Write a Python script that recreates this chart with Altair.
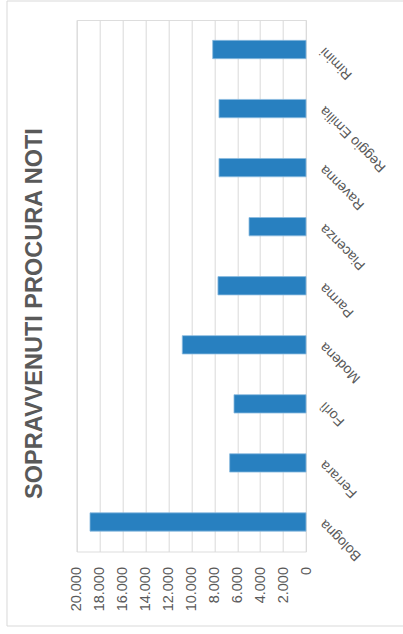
import altair as alt
import pandas as pd

cities = ["Bologna", "Ferrara", "Forlì", "Modena", "Parma", "Piacenza",
          "Ravenna", "Reggio Emilia", "Rimini"]
values = [18840, 6660, 6280, 10790, 7680, 4970, 7590, 7590, 8140]
ticks = [0, 2000, 4000, 6000, 8000, 10000, 12000, 14000, 16000, 18000, 20000]
title_text = "SOPRAVVENUTI PROCURA NOTI"

df = pd.DataFrame({"city": cities, "value": values})

W, H = 229.3, 531.5
PL, PT = 76.7, 20

bars = alt.Chart(df).mark_bar(color="#2880C0", stroke="#8bbbe0", strokeWidth=0.8).encode(
    y=alt.Y("city:N", sort=list(reversed(cities)),
            scale=alt.Scale(paddingInner=0.69, paddingOuter=0.345),
            axis=alt.Axis(orient="right", title=None, ticks=False, domain=False,
                          labelAngle=225, labelAlign="right", labelBaseline="middle",
                          labelPadding=16, labelFontSize=14, labelColor="#595959",
                          labelFont="Liberation Sans", grid=False)),
    x=alt.X("value:Q", scale=alt.Scale(domain=[0, 20000], reverse=True, nice=False),
            axis=alt.Axis(orient="bottom", title=None, values=ticks, ticks=False,
                          domain=False, grid=True, gridColor="#d9d9d9", gridWidth=1,
                          labelAngle=270, labelAlign="right", labelBaseline="middle",
                          labelPadding=15, labelFontSize=14.5, labelColor="#595959",
                          labelFont="Liberation Sans",
                          labelExpr="replace(format(datum.value, ','), ',', '.')")),
)

border = alt.Chart(pd.DataFrame({"k": [0]})).mark_rect(
    fill=None, stroke="#d9d9d9", strokeWidth=1, clip=False
).encode(
    x=alt.value(7 - PL), x2=alt.value(406 - PL),
    y=alt.value(1 - PT), y2=alt.value(626 - PT),
)

chart = alt.layer(border, bars).properties(
    width=W, height=H,
    padding={"left": PL, "top": PT, "right": 403 - PL - W, "bottom": 634 - PT - H},
    autosize=alt.AutoSizeParams(type="none"),
    title=alt.TitleParams(title_text, orient="left", anchor="middle", frame="bounds",
                          fontSize=23.5, fontWeight="bold", color="#595959",
                          font="Liberation Sans", offset=-40),
).configure_view(stroke=None).configure(background="white")

chart.save("out.html", embed_options={"renderer": "svg", "actions": False})
